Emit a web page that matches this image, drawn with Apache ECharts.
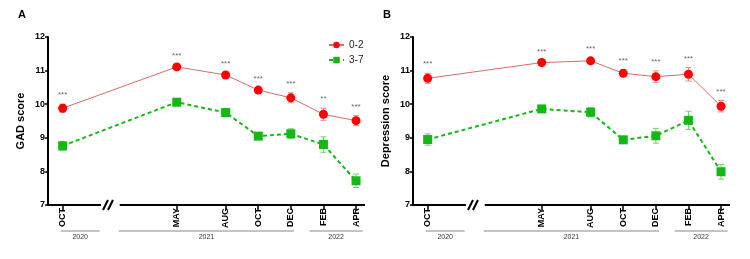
<!DOCTYPE html>
<html>
<head>
<meta charset="utf-8">
<script src="https://cdn.jsdelivr.net/npm/echarts@6/dist/echarts.min.js"></script>
<style>
  html, body { margin: 0; padding: 0; background: #fff; }
  #chart { width: 750px; height: 259px; }
</style>
</head>
<body>
<div id="chart"></div>
<script>
// months counted from OCT 2020
const months = [0, 7, 10, 12, 14, 16, 18];
const monthLabels = ['OCT', 'MAY', 'AUG', 'OCT', 'DEC', 'FEB', 'APR'];
const years = ['2020', '2021', '2022'];
const yearSpans = [[-0.12, 2.27], [3.44, 14.2], [15.15, 18.4]];
const breakRange = [2.35, 3.5];

// A: GAD score
const gadLow = [9.88, 11.11, 10.87, 10.42, 10.19, 9.70, 9.51];
const gadLowErr = [0.12, 0.05, 0.07, 0.06, 0.15, 0.18, 0.15];
const gadHigh = [8.76, 10.06, 9.75, 9.05, 9.12, 8.80, 7.72];
const gadHighErr = [0.13, 0.08, 0.12, 0.1, 0.15, 0.23, 0.2];
const gadStars = ['***', '***', '***', '***', '***', '**', '***'];

// B: Depression score
const depLow = [10.77, 11.24, 11.29, 10.92, 10.82, 10.89, 9.94];
const depLowErr = [0.15, 0.05, 0.08, 0.1, 0.17, 0.2, 0.17];
const depHigh = [8.95, 9.86, 9.76, 8.94, 9.06, 9.52, 7.99];
const depHighErr = [0.17, 0.08, 0.14, 0.1, 0.22, 0.27, 0.22];
const depStars = ['***', '***', '***', '***', '***', '***', '***'];

const RED = '#ff0000';
const RED_LINE = '#d86a6a';
const RED_ERR = '#e48a8a';
const GREEN = '#14b814';
const GREEN_ERR = '#6fd36f';
const FONT = 'Liberation Sans, Arial, sans-serif';

const chart = echarts.init(document.getElementById('chart'));

function errSeries(idx, vals, errs, color) {
  return {
    type: 'custom',
    xAxisIndex: idx, yAxisIndex: idx,
    silent: true, z: 1,
    data: months.map((m, i) => [m, vals[i], errs[i]]),
    renderItem: function (params, api) {
      const x = api.value(0), v = api.value(1), e = api.value(2);
      const top = api.coord([x, v + e]);
      const bot = api.coord([x, v - e]);
      const w = 3;
      const st = { stroke: color, lineWidth: 1 };
      return {
        type: 'group',
        children: [
          { type: 'line', shape: { x1: top[0], y1: top[1], x2: bot[0], y2: bot[1] }, style: st },
          { type: 'line', shape: { x1: top[0] - w, y1: top[1], x2: top[0] + w, y2: top[1] }, style: st },
          { type: 'line', shape: { x1: bot[0] - w, y1: bot[1], x2: bot[0] + w, y2: bot[1] }, style: st }
        ]
      };
    }
  };
}

function starSeries(idx, vals, errs, stars) {
  return {
    type: 'scatter',
    xAxisIndex: idx, yAxisIndex: idx,
    symbolSize: 0, silent: true,
    data: months.map((m, i) => [m, vals[i] + errs[i], stars[i]]),
    label: {
      show: true, position: 'top', distance: 5,
      formatter: p => p.value[2],
      fontSize: 8, color: '#444', fontFamily: FONT
    }
  };
}

function lowSeries(idx, vals) {
  return {
    name: '0-2', type: 'line',
    xAxisIndex: idx, yAxisIndex: idx, z: 3,
    data: months.map((m, i) => [m, vals[i]]),
    symbol: 'circle', symbolSize: 9,
    itemStyle: { color: RED },
    lineStyle: { color: RED_LINE, width: 1 }
  };
}

function highSeries(idx, vals) {
  return {
    name: '3-7', type: 'line',
    xAxisIndex: idx, yAxisIndex: idx, z: 3,
    data: months.map((m, i) => [m, vals[i]]),
    symbol: 'rect', symbolSize: 9,
    itemStyle: { color: GREEN },
    lineStyle: { color: GREEN, width: 2, type: [4, 3] }
  };
}

function xAxis(idx) {
  return {
    type: 'value', gridIndex: idx,
    min: -0.9, max: 18.55,
    axisLine: { show: false, onZero: false },
    splitLine: { show: false },
    axisTick: { show: true, customValues: months, length: 5, lineStyle: { color: '#000', width: 1.5 } },
    axisLabel: {
      customValues: months, rotate: 90, margin: 3,
      formatter: v => monthLabels[months.indexOf(v)],
      fontSize: 9, fontWeight: 'bold', color: '#000', fontFamily: FONT
    }
  };
}

function yAxis(idx, name) {
  return {
    type: 'value', gridIndex: idx,
    min: 7, max: 12, interval: 1,
    name: name, nameLocation: 'middle', nameGap: 22,
    nameTextStyle: { fontSize: 11, fontWeight: 'bold', color: '#000', fontFamily: FONT },
    axisLine: { show: true, onZero: false, lineStyle: { color: '#000', width: 2 } },
    axisTick: { show: true, length: 3, lineStyle: { color: '#000', width: 1.5 } },
    splitLine: { show: false },
    axisLabel: { margin: 3, fontSize: 9, fontWeight: 'bold', color: '#000', fontFamily: FONT }
  };
}

const option = {
  animation: false,
  textStyle: { fontFamily: FONT },
  grid: [
    { left: 48, top: 37, width: 317, height: 168 },
    { left: 413, top: 37, width: 317, height: 168 }
  ],
  xAxis: [xAxis(0), xAxis(1)],
  yAxis: [yAxis(0, 'GAD score'), yAxis(1, 'Depression score')],
  legend: {
    orient: 'vertical', left: 323, top: 35,
    itemWidth: 15, itemHeight: 8, itemGap: 5,
    data: ['0-2', '3-7'],
    textStyle: { fontSize: 10, color: '#222', fontFamily: FONT }
  },
  series: [
    errSeries(0, gadLow, gadLowErr, RED_ERR),
    errSeries(0, gadHigh, gadHighErr, GREEN_ERR),
    lowSeries(0, gadLow),
    highSeries(0, gadHigh),
    starSeries(0, gadLow, gadLowErr, gadStars),
    errSeries(1, depLow, depLowErr, RED_ERR),
    errSeries(1, depHigh, depHighErr, GREEN_ERR),
    lowSeries(1, depLow),
    highSeries(1, depHigh),
    starSeries(1, depLow, depLowErr, depStars)
  ]
};
chart.setOption(option);

// axis line with break, panel letters, year brackets
const g = [];
['A', 'B'].forEach((letter, i) => {
  const px = (m, v) => chart.convertToPixel({ gridIndex: i }, [m, v]);
  const y0 = px(0, 7)[1];
  const xs = px(-0.9, 7)[0], xe = px(18.55, 7)[0];
  const b0 = px(breakRange[0], 7)[0], b1 = px(breakRange[1], 7)[0];
  g.push({ type: 'line', shape: { x1: xs - 1, y1: y0, x2: b0, y2: y0 }, style: { stroke: '#000', lineWidth: 2 } });
  g.push({ type: 'line', shape: { x1: b1, y1: y0, x2: xe, y2: y0 }, style: { stroke: '#000', lineWidth: 2 } });
  [0, 5].forEach(off => {
    g.push({ type: 'line', shape: { x1: b0 + 2 + off, y1: y0 + 5, x2: b0 + 7 + off, y2: y0 - 5 }, style: { stroke: '#000', lineWidth: 2 } });
  });
  g.push({ type: 'text', left: i === 0 ? 18 : 383, top: 9, style: { text: letter, fontSize: 11, fontWeight: 'bold', fill: '#000', fontFamily: FONT } });
  years.forEach((yr, k) => {
    const a = px(yearSpans[k][0], 7)[0], b = px(yearSpans[k][1], 7)[0];
    g.push({ type: 'line', shape: { x1: a, y1: 231, x2: b, y2: 231 }, style: { stroke: '#888', lineWidth: 1 } });
    g.push({ type: 'text', x: (a + b) / 2, y: 234, style: { text: yr, fontSize: 7, fill: '#333', align: 'center', verticalAlign: 'top', fontFamily: FONT } });
  });
});
chart.setOption({ graphic: g });
</script>
</body>
</html>
